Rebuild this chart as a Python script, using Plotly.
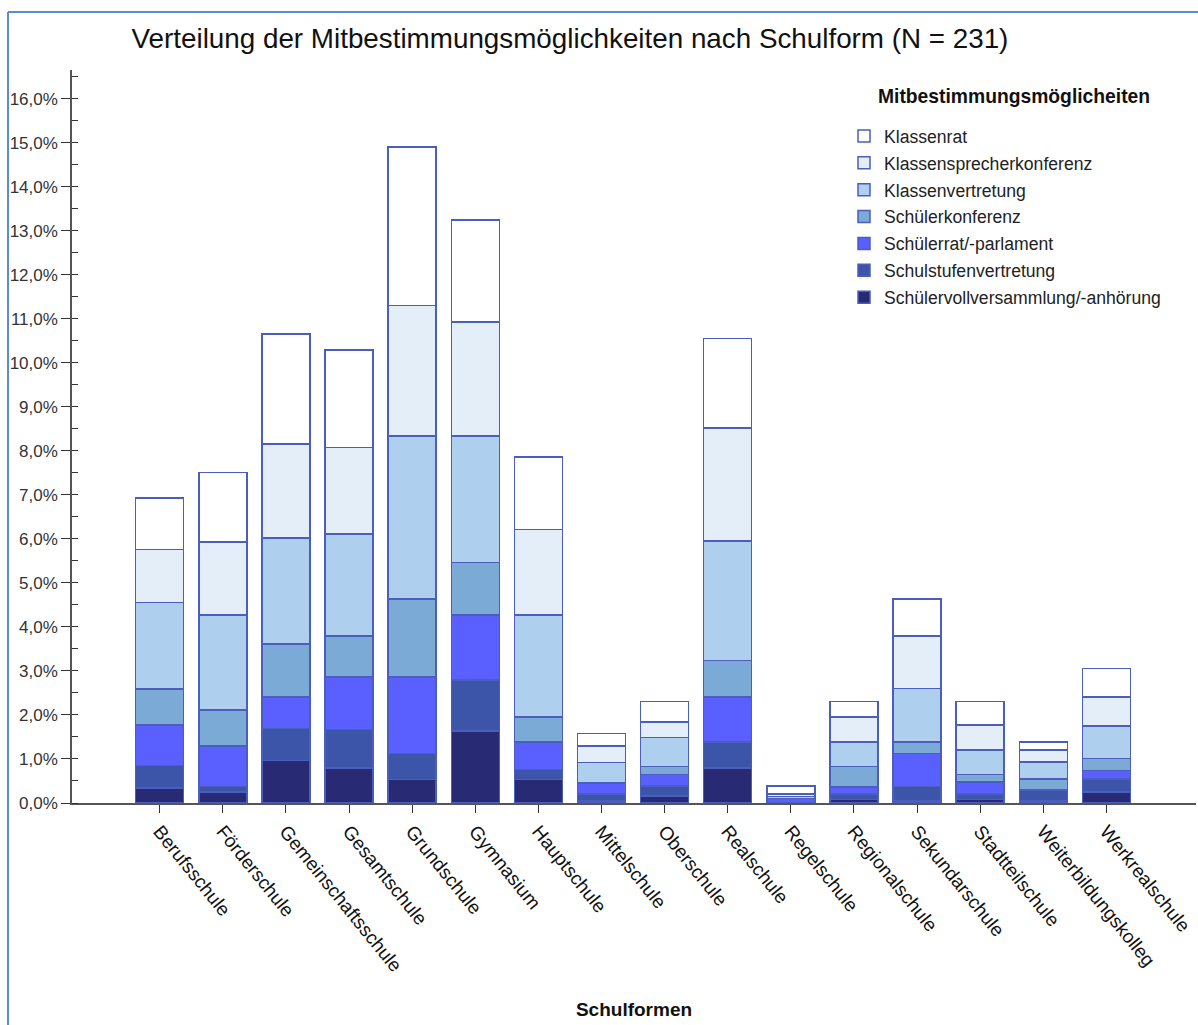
import plotly.graph_objects as go

# School types (x categories)
schulformen = [
    "Berufsschule", "Förderschule", "Gemeinschaftsschule", "Gesamtschule",
    "Grundschule", "Gymnasium", "Hauptschule", "Mittelschule", "Oberschule",
    "Realschule", "Regelschule", "Regionalschule", "Sekundarschule",
    "Stadtteilschule", "Weiterbildungskolleg", "Werkrealschule",
]

# Share of all mentions (%), one list per participation option
schuelervollversammlung = [0.34, 0.25, 0.97, 0.80, 0.53, 1.63, 0.53, 0.05, 0.16, 0.80, 0.00, 0.08, 0.04, 0.08, 0.04, 0.25]
schulstufenvertretung   = [0.51, 0.13, 0.72, 0.87, 0.59, 1.16, 0.23, 0.16, 0.23, 0.59, 0.00, 0.13, 0.34, 0.13, 0.25, 0.30]
schuelerrat             = [0.92, 0.92, 0.72, 1.19, 1.74, 1.48, 0.63, 0.25, 0.26, 1.02, 0.10, 0.15, 0.74, 0.27, 0.00, 0.19]
schuelerkonferenz       = [0.82, 0.81, 1.20, 0.93, 1.77, 1.19, 0.56, 0.00, 0.18, 0.83, 0.00, 0.47, 0.27, 0.17, 0.26, 0.27]
klassenvertretung       = [1.96, 2.16, 2.41, 2.32, 3.71, 2.88, 2.32, 0.46, 0.66, 2.71, 0.05, 0.56, 1.21, 0.55, 0.38, 0.74]
klassensprecherkonferenz= [1.21, 1.66, 2.13, 1.96, 2.96, 2.59, 1.94, 0.38, 0.35, 2.57, 0.06, 0.56, 1.19, 0.57, 0.27, 0.66]
klassenrat              = [1.17, 1.58, 2.50, 2.22, 3.60, 2.31, 1.65, 0.28, 0.47, 2.03, 0.18, 0.36, 0.84, 0.54, 0.19, 0.64]

series = [
    ("Schülervollversammlung/-anhörung", schuelervollversammlung, "#282a73"),
    ("Schulstufenvertretung", schulstufenvertretung, "#3d55a9"),
    ("Schülerrat/-parlament", schuelerrat, "#5a5fff"),
    ("Schülerkonferenz", schuelerkonferenz, "#7baad6"),
    ("Klassenvertretung", klassenvertretung, "#aed0ee"),
    ("Klassensprecherkonferenz", klassensprecherkonferenz, "#e3eef9"),
    ("Klassenrat", klassenrat, "#ffffff"),
]

FONT = "Liberation Sans, Arial, sans-serif"

fig = go.Figure()
for i, (name, vals, color) in enumerate(series):
    fig.add_trace(go.Bar(
        x=schulformen, y=vals, name=name, legendgroup=name,
        legendrank=100 - i,  # top segment listed first
        marker=dict(color=color, line=dict(color="#4b5ebe", width=1.5)),
    ))

# plot area in pixels, used to place paper-referenced extras
PLOT_L, PLOT_R, PLOT_T, PLOT_B = 72, 1196, 70, 802.7
def px_x(p):
    return (p - PLOT_L) / (PLOT_R - PLOT_L)
def px_y(p):
    return (PLOT_B - p) / (PLOT_B - PLOT_T)

# thin blue window frame on the top and left edges
frame = dict(color="#5b8bd0", width=2)
fig.add_shape(type="line", xref="paper", yref="paper",
              x0=px_x(8), x1=px_x(1198), y0=px_y(12), y1=px_y(12), line=frame)
fig.add_shape(type="line", xref="paper", yref="paper",
              x0=px_x(8), x1=px_x(8), y0=px_y(12), y1=px_y(1025), line=frame)

# legend heading
fig.add_annotation(
    text="<b>Mitbestimmungsmöglicheiten</b>", xref="paper", yref="paper",
    x=px_x(876), y=px_y(96), xanchor="left", yanchor="middle", showarrow=False,
    font=dict(family=FONT, size=19.3, color="#111"),
)

fig.update_layout(
    width=1198, height=1025,
    margin=dict(l=PLOT_L, r=1198 - PLOT_R, t=PLOT_T, b=1025 - PLOT_B),
    paper_bgcolor="white", plot_bgcolor="white",
    barmode="stack", bargap=0.24,
    separators=",.",
    font=dict(family=FONT, color="#222"),
    title=dict(
        text="Verteilung der Mitbestimmungsmöglichkeiten nach Schulform (N = 231)",
        font=dict(family=FONT, size=27.8, color="#111"),
        x=570 / 1198, xanchor="center", xref="container",
        y=1 - 38 / 1025, yanchor="middle", yref="container",
    ),
    xaxis=dict(
        range=[-1.39, 16.42], showline=True, linecolor="#555", linewidth=1.5,
        ticks="outside", ticklen=8, tickcolor="#333", tickangle=51,
        tickfont=dict(family=FONT, size=19, color="#111"),
        showgrid=False, zeroline=False,
        title=dict(text="<b>Schulformen</b>", font=dict(family=FONT, size=19, color="#111"),
                   standoff=28),
    ),
    yaxis=dict(
        range=[0, 16.65], dtick=1, tick0=0, tickformat=".1f", ticksuffix="%",
        showline=True, linecolor="#555", linewidth=1.5,
        ticks="outside", ticklen=9, tickcolor="#333",
        tickfont=dict(family=FONT, size=17, color="#333"),
        minor=dict(dtick=0.5, ticks="inside", ticklen=6, tickcolor="#333", showgrid=False),
        showgrid=False, zeroline=False,
    ),
    legend=dict(
        traceorder="grouped", tracegroupgap=1,
        font=dict(family=FONT, size=17.6, color="#222"),
        x=px_x(844), y=px_y(118), xanchor="left", yanchor="top",
        bgcolor="rgba(0,0,0,0)", itemwidth=30,
    ),
)

fig.write_html("out.html")
